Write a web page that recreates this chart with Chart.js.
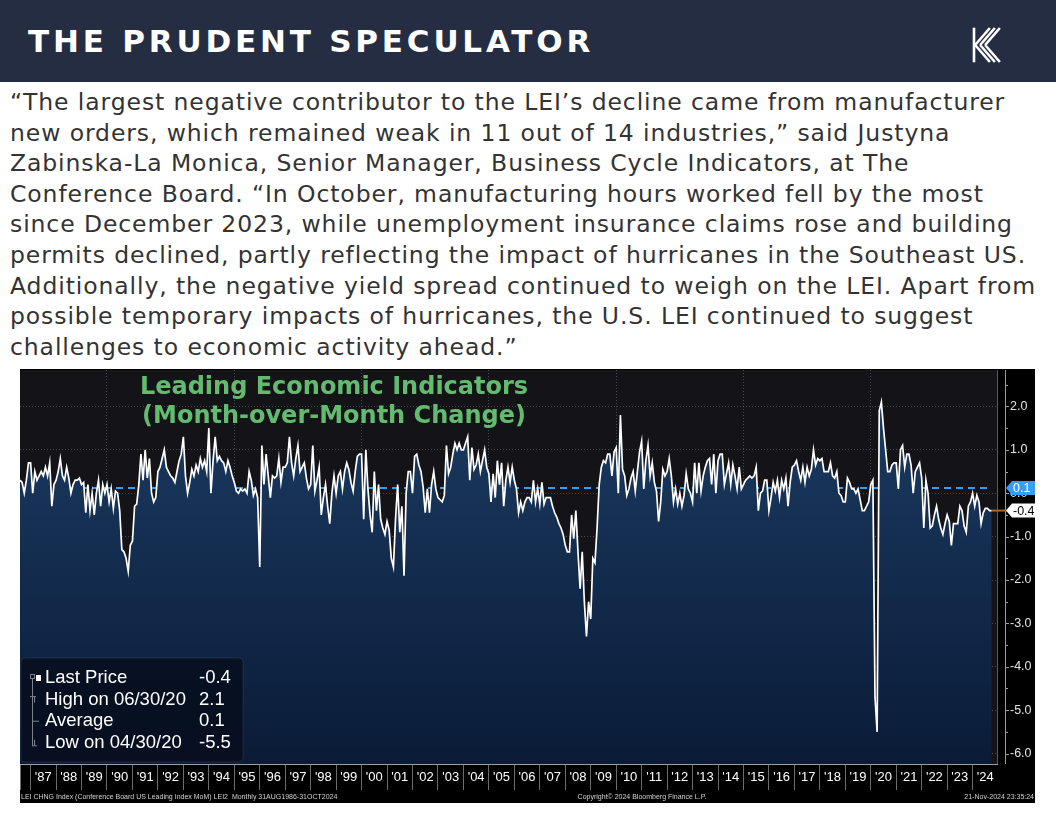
<!DOCTYPE html>
<html lang="en">
<head>
<meta charset="utf-8">
<title>Leading Economic Indicators</title>
<script src="https://cdn.jsdelivr.net/npm/chart.js@4.4.1/dist/chart.umd.min.js"></script>
<style>
  html, body { margin: 0; padding: 0; background: #fff; }
  body { position: relative; width: 1056px; height: 816px; overflow: hidden; }
  .header { position: absolute; left: 0; top: 0; width: 1056px; height: 82px; background: #252d42; }
  .brand { position: absolute; left: 28px; top: 22px; color: #fff; font: bold 31px "DejaVu Sans"; letter-spacing: 3.8px; line-height: 38px; white-space: nowrap; }
  .logo { position: absolute; left: 970px; top: 26px; }
  .quote { position: absolute; left: 10px; top: 87px; color: #333; font: 23.5px "DejaVu Sans"; letter-spacing: 0.9px; line-height: 30.6px; white-space: pre; }
  .chart-box { position: absolute; left: 20px; top: 369px; width: 1015px; height: 434px; background: #000; }
</style>
</head>
<body>
<div class="header">
  <div class="brand">THE PRUDENT SPECULATOR</div>
  <svg class="logo" width="36" height="38" viewBox="0 0 36 38">
    <g stroke="#fff" stroke-width="2.6" fill="none" stroke-linecap="square">
      <line x1="4" y1="3" x2="4" y2="35"/>
      <line x1="6" y1="18" x2="19" y2="3"/>
      <line x1="11" y1="18" x2="24" y2="3"/>
      <line x1="16" y1="18" x2="29" y2="3"/>
      <line x1="6" y1="20" x2="19" y2="35"/>
      <line x1="11" y1="20" x2="24" y2="35"/>
      <line x1="16" y1="20" x2="29" y2="35"/>
    </g>
  </svg>
</div>
<div class="quote">“The largest negative contributor to the LEI’s decline came from manufacturer
new orders, which remained weak in 11 out of 14 industries,” said Justyna
Zabinska-La Monica, Senior Manager, Business Cycle Indicators, at The
Conference Board. “In October, manufacturing hours worked fell by the most
since December 2023, while unemployment insurance claims rose and building
permits declined, partly reflecting the impact of hurricanes in the Southeast US.
Additionally, the negative yield spread continued to weigh on the LEI. Apart from
possible temporary impacts of hurricanes, the U.S. LEI continued to suggest
challenges to economic activity ahead.”</div>
<div class="chart-box"><canvas id="chart" width="1015" height="434"></canvas></div>
<script>
// LEI month-over-month change (%), Aug 1986 - Oct 2024
const lei1986to1989 = [
  0.3, 0.25, 0.0, 0.3, 0.7,                                         // 1986 Aug-Dec
  0.7, 0.0, 0.5, 0.3, 0.4, 0.5, 0.4, 0.6, 0.4, 0.7, -0.3, 0.2,      // 1987
  0.3, 0.5, 0.8, 0.4, 0.3, 0.6, 0.35, 0.0, 0.2, 0.3, 0.3, 0.35,     // 1988
  0.2, 0.25, -0.45, 0.2, -0.4, 0.0, -0.5, 0.0, 0.3, -0.3, 0.2, 0.0  // 1989
];
const lei1990s = [
  0.2, -0.2, 0.1, -0.35, 0.05, 0.0, -0.4, -1.3, -1.35, -1.5, -1.8, -1.2, // 1990
  -1.1, -0.3, -0.25, 0.2, 0.9, 0.3, 1.0, 0.35, 0.8, 0.0, -0.2, -0.1,     // 1991
  0.5, 0.6, 0.8, 1.0, 0.6, 0.5, 0.4, 0.35, 0.25, 0.5, 0.75, 0.9,         // 1992
  1.3, 0.4, 0.0, 0.25, 0.55, 0.4, 0.65, 0.5, 0.8, 0.6, 0.75, 0.5,        // 1993
  1.5, 0.0, 0.75, 1.3, 0.75, 0.85, 0.75, 0.7, 0.5, 0.75, 0.6, 0.4,       // 1994
  0.25, 0.05, 0.0, 0.1, 0.05, 0.1, 0.0, 0.5, 0.3, -0.05, 0.1, -0.1,      // 1995
  -1.7, 1.1, 0.2, 0.9, 0.4, -0.1, 0.4, 0.35, 0.4, 0.8, 0.25, 0.6,        // 1996
  0.6, 0.7, 1.3, 0.7, 0.4, 0.8, 1.1, 0.5, 0.6, 0.7, 0.35, 0.1,           // 1997
  0.2, 1.1, 0.05, 0.3, 0.6, -0.5, -0.1, 0.2, -0.3, -0.7, 0.0, 0.4,       // 1998
  0.0, 0.4, 0.5, 0.1, 0.5, 0.7, 0.55, 0.25, 0.05, 0.5, 0.85, 0.9         // 1999
];
const lei2000s = [
  0.9, -0.6, 1.0, 0.1, -0.5, -0.9, 0.5, -0.4, 0.2, -0.6, -0.8, -0.95,       // 2000
  -0.65, -0.85, -1.5, -1.7, -0.6, 0.2, -0.9, -0.3, -1.9, 0.0, 0.5, 0.5,     // 2001
  0.0, 0.85, 0.9, 0.65, 0.5, 0.15, -0.45, 0.1, -0.45, 0.2, 0.5, 0.1,        // 2002
  -0.1, -0.15, -0.2, -0.05, 1.1, 0.45, 0.6, 0.9, 1.15, 1.0, 1.15, 1.0,      // 2003
  1.0, 1.15, 1.3, 0.3, 1.05, 0.55, 0.65, 0.9, 0.5, 0.75, 1.0, 0.6,          // 2004
  0.45, -0.2, 0.45, -0.1, 0.75, 0.2, 0.7, -0.3, 0.3, 0.6, 0.25, 0.6,        // 2005
  0.3, 0.1, -0.45, -0.2, -0.4, -0.2, -0.1, -0.1, -0.2, 0.3, -0.2, 0.1,      // 2006
  -0.25, 0.25, -0.25, -0.1, -0.1, -0.1, -0.3, -0.45, -0.55, -0.7, -0.8, -0.95, // 2007
  -1.2, -1.35, -1.35, -0.5, -1.05, -0.4, -1.35, -2.2, -1.35, -2.5, -3.3, -2.5, // 2008
  -2.9, -1.5, -1.6, -0.8, 0.2, 0.6, 0.75, 0.7, 0.9, 0.9, 0.4, 0.95          // 2009
];
const lei2010s = [
  1.05, 0.0, 1.8, 0.55, 0.4, -0.05, 0.1, 0.35, 0.5, 0.05, 0.5, 0.95,    // 2010
  1.2, 0.1, 0.75, 1.1, 0.4, 0.7, 0.25, 0.05, -0.65, -0.2, 0.55, 0.4,    // 2011
  0.5, 0.8, 0.4, -0.2, 0.1, -0.25, 0.0, -0.3, -0.05, 0.45, 0.1, 0.0,    // 2012
  -0.2, 0.7, 0.0, 0.7, 0.05, 0.4, 0.6, 0.75, 0.8, 0.2, 0.9, 0.0,        // 2013
  0.75, 0.9, 0.9, 0.2, 0.45, 0.7, 0.2, 0.65, 0.4, 0.1, 0.6, 0.1,        // 2014
  0.2, 0.3, 0.35, 0.4, 0.35, 0.4, 0.6, -0.4, 0.0, 0.05, 0.3, 0.3,       // 2015
  -0.4, -0.1, 0.25, 0.05, 0.3, -0.1, 0.3, 0.1, 0.35, -0.3, 0.25, 0.6,   // 2016
  0.65, 0.75, 0.5, 0.3, 0.6, 0.25, 0.6, 0.4, 0.55, 1.0, 0.65, 0.8,      // 2017
  0.75, 0.8, 0.5, 0.5, 0.5, 0.7, 0.4, 0.35, 0.5, 0.0, -0.05, -0.2,      // 2018
  -0.2, 0.35, 0.25, 0.1, 0.1, 0.0, 0.1, -0.15, -0.4, -0.4, -0.3, -0.2   // 2019
];
const lei2020s = [
  0.2, 0.3, -4.7, -5.5, 1.9, 2.1, 1.5, 1.0, 0.5, 0.5, 0.65, 0.7,            // 2020
  0.7, 0.1, 1.0, 1.1, 0.6, 0.9, 0.9, 0.65, 0.0, 0.5, 0.6, 0.7,              // 2021
  0.35, -0.8, 0.3, 0.0, -0.8, -0.75, -0.5, -0.3, -0.6, -0.8, -0.95, -0.7,   // 2022
  -0.5, -0.65, -1.2, -0.7, -0.7, -0.7, -0.3, -0.4, -0.75, -0.9, -0.3, -0.2, // 2023
  0.0, -0.3, -0.05, -0.2, -0.7, -0.45, -0.35, -0.35, -0.4, -0.4             // 2024 Jan-Oct
];

const yearLabels = ["'87", "'88", "'89", "'90", "'91", "'92", "'93", "'94", "'95", "'96",
  "'97", "'98", "'99", "'00", "'01", "'02", "'03", "'04", "'05", "'06", "'07", "'08", "'09",
  "'10", "'11", "'12", "'13", "'14", "'15", "'16", "'17", "'18", "'19", "'20", "'21", "'22",
  "'23", "'24"];
const yTickValues = [-6, -5.5, -5, -4.5, -4, -3.5, -3, -2.5, -2, -1.5, -1, -0.5, 0, 0.5, 1, 1.5, 2, 2.5];
const legendRows = ['Last Price', 'High on 06/30/20', 'Average', 'Low on 04/30/20'];
const legendValues = ['-0.4', '2.1', '0.1', '-5.5'];
const averageLevel = 0.12;
const titleLines = ['Leading Economic Indicators', '(Month-over-Month Change)'];
const footLeft = 'LEI CHNG Index (Conference Board US Leading Index MoM) LEI2  Monthly 31AUG1986-31OCT2024';
const footMid = 'Copyright\u00a9 2024 Bloomberg Finance L.P.';
const footRight = '21-Nov-2024 23:35:24';

const leiMoM = [].concat(lei1986to1989, lei1990s, lei2000s, lei2010s, lei2020s);
const firstJan = 5; // Jan 1987 is the 6th month of the series
const lastIdx = leiMoM.length - 1;

const plotBg = '#141418';
const gridDot = 'rgba(150,150,165,0.4)';
const fillTop = '#1c3d64';
const fillBottom = '#0a1b37';
const avgBlue = '#3a9cf3';
const lastOrange = '#a86a20';

const decor = {
  id: 'decor',
  beforeDraw(chart) {
    const { ctx, chartArea: a } = chart;
    ctx.save();
    ctx.fillStyle = '#000';
    ctx.fillRect(0, 0, chart.width, chart.height);
    ctx.fillStyle = plotBg;
    ctx.fillRect(a.left, a.top, a.right - a.left, a.bottom - a.top);
    ctx.restore();
  },
  afterDraw(chart) {
    const { ctx, chartArea: a, scales: { x, y } } = chart;
    const axisX = a.right + 8;
    ctx.save();

    // frame + right axis
    ctx.strokeStyle = '#5a5a5a';
    ctx.lineWidth = 1;
    ctx.beginPath();
    ctx.moveTo(a.right + 0.5, a.top);
    ctx.lineTo(a.right + 0.5, a.bottom);
    ctx.stroke();
    ctx.strokeStyle = '#9a9a9a';
    ctx.beginPath();
    ctx.moveTo(axisX + 0.5, a.top);
    ctx.lineTo(axisX + 0.5, a.bottom);
    yTickValues.forEach(v => {
      const py = Math.round(y.getPixelForValue(v)) + 0.5;
      ctx.moveTo(axisX, py);
      ctx.lineTo(axisX + (Number.isInteger(v) ? 4 : 3), py);
    });
    ctx.stroke();

    // title
    ctx.fillStyle = '#63bb70';
    ctx.font = 'bold 24px "DejaVu Sans"';
    ctx.textAlign = 'center';
    ctx.textBaseline = 'middle';
    titleLines.forEach((t, i) => ctx.fillText(t, a.left + 314, a.top + 18 + i * 29));

    // last price connector
    const lastY = y.getPixelForValue(leiMoM[lastIdx]);
    ctx.strokeStyle = lastOrange;
    ctx.lineWidth = 2;
    ctx.beginPath();
    ctx.moveTo(x.getPixelForValue(lastIdx), lastY);
    ctx.lineTo(axisX + 3, lastY);
    ctx.stroke();

    // value flags on the axis
    const flag = (py, bg, fg, text) => {
      ctx.fillStyle = bg;
      ctx.beginPath();
      ctx.moveTo(axisX + 1, py);
      ctx.lineTo(axisX + 7, py - 7);
      ctx.lineTo(chart.width, py - 7);
      ctx.lineTo(chart.width, py + 7);
      ctx.lineTo(axisX + 7, py + 7);
      ctx.closePath();
      ctx.fill();
      ctx.fillStyle = fg;
      ctx.font = '12.5px "Liberation Sans"';
      ctx.textAlign = 'left';
      ctx.textBaseline = 'middle';
      ctx.fillText(text, axisX + 8, py + 0.5);
    };
    flag(y.getPixelForValue(averageLevel), avgBlue, '#ffffff', legendValues[2]);
    flag(lastY, '#ffffff', '#000000', legendValues[0]);

    // legend box
    const lx = a.left + 1, lh = 104, lw = 222, ly = a.bottom - 2 - lh;
    ctx.fillStyle = 'rgba(6,13,26,0.8)';
    ctx.beginPath();
    if (ctx.roundRect) ctx.roundRect(lx, ly, lw, lh, 4); else ctx.rect(lx, ly, lw, lh);
    ctx.fill();
    ctx.strokeStyle = 'rgba(120,130,150,0.2)';
    ctx.lineWidth = 1;
    ctx.stroke();
    ctx.font = '18.5px "Liberation Sans"';
    ctx.fillStyle = '#ffffff';
    ctx.textAlign = 'left';
    legendRows.forEach((label, i) => {
      const ry = ly + 20 + i * 21.6;
      ctx.fillText(label, lx + 24, ry);
      ctx.fillText(legendValues[i], lx + 178, ry);
    });
    // little marker tree
    ctx.strokeStyle = '#7d838e';
    ctx.beginPath();
    ctx.moveTo(lx + 11.5, ly + 20);
    ctx.lineTo(lx + 11.5, ly + 20 + 3 * 21.6 + 3);
    ctx.moveTo(lx + 9, ly + 20 + 21.6 - 3); ctx.lineTo(lx + 15, ly + 20 + 21.6 - 3);
    ctx.moveTo(lx + 13.5, ly + 20 + 21.6 - 3); ctx.lineTo(lx + 13.5, ly + 20 + 21.6 + 3);
    ctx.moveTo(lx + 12, ly + 20 + 2 * 21.6); ctx.lineTo(lx + 18, ly + 20 + 2 * 21.6);
    ctx.moveTo(lx + 13.5, ly + 20 + 3 * 21.6 - 3); ctx.lineTo(lx + 13.5, ly + 20 + 3 * 21.6 + 3);
    ctx.moveTo(lx + 11, ly + 20 + 3 * 21.6 + 3); ctx.lineTo(lx + 16, ly + 20 + 3 * 21.6 + 3);
    ctx.stroke();
    ctx.strokeRect(lx + 9.5, ly + 16.5, 4, 4);
    ctx.fillStyle = '#ffffff';
    ctx.fillRect(lx + 15, ly + 17, 5, 6);

    // footnotes
    ctx.font = '7px "Liberation Sans"';
    ctx.fillStyle = '#d2d2d2';
    ctx.textBaseline = 'middle';
    const fy = chart.height - 6;
    ctx.textAlign = 'left';
    ctx.fillText(footLeft, 1, fy);
    ctx.textAlign = 'center';
    ctx.fillText(footMid, 622, fy);
    ctx.textAlign = 'right';
    ctx.fillText(footRight, chart.width - 1, fy);
    ctx.restore();
  }
};

new Chart(document.getElementById('chart'), {
  type: 'line',
  data: {
    datasets: [{
      label: 'LEI MoM',
      data: leiMoM.map((v, i) => ({ x: i, y: v })),
      borderColor: '#ffffff',
      borderWidth: 1.7,
      pointRadius: 0,
      tension: 0,
      fill: 'start',
      backgroundColor: (c) => {
        const a = c.chart.chartArea;
        if (!a) return fillBottom;
        const g = c.chart.ctx.createLinearGradient(0, a.top, 0, a.bottom);
        g.addColorStop(0, fillTop);
        g.addColorStop(1, fillBottom);
        return g;
      },
      order: 0
    }, {
      label: 'Average',
      data: [{ x: 0, y: averageLevel }, { x: lastIdx, y: averageLevel }],
      borderColor: avgBlue,
      borderWidth: 2,
      borderDash: [7, 5],
      pointRadius: 0,
      fill: false,
      order: 1
    }]
  },
  options: {
    responsive: false,
    animation: false,
    devicePixelRatio: 1,
    layout: { autoPadding: false, padding: { top: 1, left: 0, right: 0, bottom: 0 } },
    plugins: { legend: { display: false }, tooltip: { enabled: false } },
    scales: {
      x: {
        type: 'linear',
        min: 0,
        max: 460.5,
        z: 1,
        afterBuildTicks: (s) => {
          s.ticks = [{ value: 0 }].concat(yearLabels.map((_, k) => ({ value: firstJan + 12 * k })));
        },
        afterFit: (s) => { s.height = 39; s.paddingLeft = 0; s.paddingRight = 0; },
        ticks: {
          autoSkip: false,
          maxRotation: 0,
          minRotation: 0,
          labelOffset: 12.7,
          padding: -20.5,
          color: '#ffffff',
          font: { family: 'Liberation Sans', size: 13 },
          callback: (v, i) => (i === 0 ? '' : yearLabels[i - 1])
        },
        grid: {
          color: (c) => {
            const v = c.tick ? c.tick.value : 0;
            const yr = 1987 + (v - firstJan) / 12;
            return v > 0 && yr % 5 === 0 ? gridDot : 'rgba(0,0,0,0)';
          },
          lineWidth: 1,
          drawTicks: true,
          tickLength: 26,
          tickColor: '#6c6c6c',
          tickBorderDash: []
        },
        border: { display: true, color: '#a0a0a0', width: 1, dash: [1, 2] }
      },
      y: {
        position: 'right',
        min: -6.24,
        max: 2.84,
        z: 1,
        afterBuildTicks: (s) => { s.ticks = yTickValues.map(v => ({ value: v })); },
        afterFit: (s) => { s.width = 38; s.paddingTop = 0; s.paddingBottom = 0; },
        ticks: {
          padding: 13,
          color: '#e4e4e4',
          font: { family: 'Liberation Sans', size: 12.5 },
          callback: (v) => (Number.isInteger(v) ? v.toFixed(1) : '')
        },
        grid: {
          color: (c) => (c.tick && Number.isInteger(c.tick.value) ? gridDot : 'rgba(0,0,0,0)'),
          drawTicks: false
        },
        border: { display: false, dash: [1, 2] }
      }
    }
  },
  plugins: [decor]
});
</script>
</body>
</html>
